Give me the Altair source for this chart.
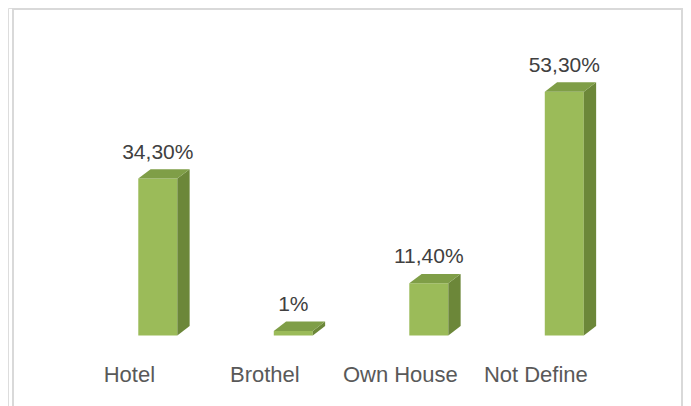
import altair as alt
import pandas as pd

categories = ["Hotel", "Brothel", "Own House", "Not Define"]
values = [34.3, 1.0, 11.4, 53.3]
value_labels = ["34,30%", "1%", "11,40%", "53,30%"]

# geometry (style) constants in data units
W = 0.144      # half width of front face
DX = 0.091     # depth offset in x
DY = 2.06      # depth offset in y (percent units)

front = pd.DataFrame({
    "cat": categories,
    "x": [i - W for i in range(len(values))],
    "x2": [i + W for i in range(len(values))],
    "xc": list(range(len(values))),
    "xl": [i - 0.21 for i in range(len(values))],
    "v": values,
    "lab": value_labels,
})

side_rows = []
top_rows = []
for i, (c, v) in enumerate(zip(categories, values)):
    side_rows.append({"cat": c, "x": i + W, "y": 0.0, "y2": v})
    side_rows.append({"cat": c, "x": i + W + DX, "y": DY, "y2": v + DY})
    top_rows.append({"cat": c, "y": v, "x": i - W, "x2": i + W})
    top_rows.append({"cat": c, "y": v + DY, "x": i - W + DX, "x2": i + W + DX})
side = pd.DataFrame(side_rows)
top = pd.DataFrame(top_rows)

# 675 px wide view, 135.5 px per category step
xs = alt.Scale(domain=[-1.1055, 3.8760], nice=False, zero=False)
ys = alt.Scale(domain=[-15.41, 71.58], nice=False, zero=False)
noax = None

base_front = alt.Chart(front)

bars = base_front.mark_rect(color="#9BBB59").encode(
    x=alt.X("x:Q", scale=xs, axis=noax),
    x2="x2:Q",
    y=alt.Y("v:Q", scale=ys, axis=noax),
    y2=alt.datum(0),
)

sides = alt.Chart(side).mark_area(color="#6C8739", interpolate="linear").encode(
    x=alt.X("x:Q", scale=xs, axis=noax),
    y=alt.Y("y:Q", scale=ys, axis=noax),
    y2="y2:Q",
    detail="cat:N",
)

tops = alt.Chart(top).mark_area(color="#7F9E47", orient="horizontal", interpolate="linear").encode(
    y=alt.Y("y:Q", scale=ys, axis=noax),
    x=alt.X("x:Q", scale=xs, axis=noax),
    x2="x2:Q",
    detail="cat:N",
)

vlabels = base_front.mark_text(
    font="Liberation Sans", fontSize=21, color="#404040", baseline="alphabetic", dy=-20
).encode(
    x=alt.X("xc:Q", scale=xs, axis=noax),
    y=alt.Y("v:Q", scale=ys, axis=noax),
    text="lab:N",
)

clabels = base_front.mark_text(
    font="Liberation Sans", fontSize=22, color="#595959", baseline="alphabetic"
).encode(
    x=alt.X("xl:Q", scale=xs, axis=noax),
    y=alt.value(374.3),
    text="cat:N",
)

border_df = pd.DataFrame({"k": [0]})
bl = alt.Chart(border_df).mark_rule(color="#D9D9D9", strokeWidth=2).encode(
    x=alt.value(5), y=alt.value(1), y2=alt.value(398))
br = alt.Chart(border_df).mark_rule(color="#D9D9D9", strokeWidth=2).encode(
    x=alt.value(674), y=alt.value(1), y2=alt.value(398))
bt = alt.Chart(border_df).mark_rule(color="#D9D9D9", strokeWidth=2).encode(
    x=alt.value(4), x2=alt.value(675), y=alt.value(1))

chart = alt.layer(bars, sides, tops, vlabels, clabels, bl, br, bt).properties(
    width=675, height=398,
    autosize=alt.AutoSizeParams(type="none"),
    padding=0,
).configure_view(stroke=None).configure(background="white")

chart.save("out.html", embed_options={"renderer": "svg", "actions": False})
